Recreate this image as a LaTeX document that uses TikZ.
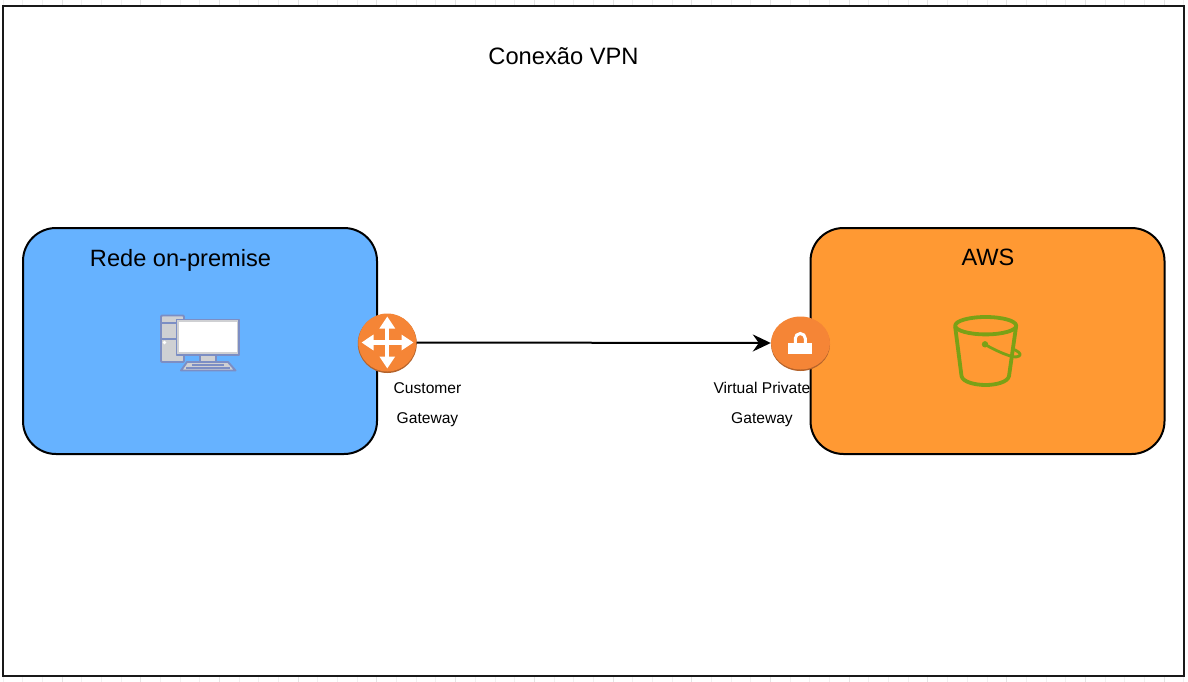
\documentclass[tikz,border=0pt]{standalone}
\usepackage{fontspec}
\setmainfont{Liberation Sans}
\usetikzlibrary{shapes.geometric,arrows.meta}
\definecolor{netblue}{HTML}{66B2FF}
\definecolor{awsorange}{HTML}{FF9933}
\definecolor{gworange}{HTML}{F58536}
\definecolor{gwshadow}{HTML}{B4632B}
\definecolor{iconline}{HTML}{7C8EC4}
\definecolor{icongray}{HTML}{CFD0D3}
\definecolor{bucketgreen}{HTML}{7AA116}
\definecolor{gridline}{HTML}{F0F0F0}
\definecolor{gridmajor}{HTML}{E4E4E4}
\tikzset{
  panel/.style={draw=black,line width=2pt,rounded corners=33pt,minimum width=354pt,minimum height=226pt,inner sep=0pt},
  gateway/.style={fill=gworange,draw=none,inner sep=0pt},
  title/.style={font=\fontsize{23.7}{26}\selectfont,inner sep=0pt},
  heading/.style={font=\fontsize{23.6}{27}\selectfont,inner sep=0pt},
  caption/.style={font=\fontsize{15.6}{30}\selectfont,align=center,inner sep=0pt},
  iconstroke/.style={draw=iconline,line width=1.9pt,line join=round},
  whitearrow/.style={draw=white,line width=4.2pt,-{Triangle[width=15pt,length=12pt]}},
  bucket/.style={draw=bucketgreen,line width=3.8pt,line join=round,line cap=round},
  flow/.style={draw=black,line width=2pt,-{Stealth[length=18pt,width=17pt,inset=6pt]}}
}
\begin{document}
\begin{tikzpicture}[x=1pt,y=-1pt]
\useasboundingbox (0,0) rectangle (1188,682);
% faint page grid visible beyond the frame
\foreach \i in {0,...,60}{
  \pgfmathsetmacro{\gx}{2.9+19.68*\i}
  \pgfmathtruncatemacro{\m}{mod(\i,4)}
  \ifnum\m=3
    \draw[gridmajor,line width=0.8pt] (\gx,0) -- (\gx,682);
  \else
    \draw[gridline,line width=0.8pt] (\gx,0) -- (\gx,682);
  \fi
}
% outer frame
\node[draw=black!90,fill=white,line width=2pt,minimum width=1181pt,minimum height=670pt,inner sep=0pt] (frame) at (593.8,341) {};
\node[title] (vpntitle) at (563.5,56) {Conexão VPN};
% panels
\node[panel,fill=netblue] (onprem) at (200,341) {};
\node[panel,fill=awsorange] (aws) at (987.5,341) {};
\node[heading] (onpremtitle) at (180.5,260.5) {Rede on-premise};
\node[heading] (awstitle) at (988,257) {AWS};
% computer
\draw[iconstroke,fill=icongray,rounded corners=1pt] (161,315.5) rectangle (184,362);
\draw[iconstroke] (161,323) -- (184,323) (161,339) -- (176,339);
\fill[white] (164.5,342.5) circle (1.8pt);
\draw[iconstroke,fill=icongray] (200,355) rectangle (216,362);
\draw[iconstroke,fill=icongray] (187,362) -- (228,362) -- (235.5,370.5) -- (181,370.5) -- cycle;
\draw[iconline,line width=1.2pt] (192,365) -- (224,365) (186,368) -- (230,368);
\draw[iconstroke,fill=icongray] (176.5,319.5) rectangle (239,355);
\fill[white] (178.8,321.8) rectangle (236.7,352);
% connector end shapes
\fill[gwshadow] (387.3,343.5) circle (29.5pt);
\node[gateway,circle,minimum size=58pt] (router) at (387.3,342.5) {};
\fill[gwshadow] (800.5,344.5) ellipse (29.5pt and 26.5pt);
\node[gateway,ellipse,minimum width=59pt,minimum height=53pt] (vpg) at (800.5,343) {};
\draw[flow] (router.east) -- (vpg.west);
% router arrows
\draw[whitearrow] (387.3,342.5) -- (387.3,316.5);
\draw[whitearrow] (387.3,342.5) -- (387.3,368.5);
\draw[whitearrow] (387.3,342.5) -- (361.5,342.5);
\draw[whitearrow] (387.3,342.5) -- (413.5,342.5);
% padlock
\fill[white] (788.3,342.7) rectangle (812.3,353.5);
\draw[white,line width=3pt] (795.3,344) -- (795.3,338.5) arc[start angle=180,end angle=0,radius=5pt] -- (805.3,344);
% bucket
\draw[bucket] (985.7,325.7) ellipse (30.5pt and 8.7pt);
\draw[bucket] (955.2,327) -- (961.5,376) .. controls (962.5,382) and (975,385) .. (985.7,385) .. controls (996,385) and (1008,382) .. (1009,376) -- (1016,327);
\draw[bucket,line width=2.8pt] (985,344.5) .. controls (993,349) and (1003,354) .. (1012,356.5) .. controls (1019,358) and (1022,355) .. (1019,352.5) .. controls (1017,350.5) and (1014,349.5) .. (1012.5,349);
\fill[bucketgreen] (985,344.3) circle (3.2pt);
% captions
\node[caption] (cgw) at (427.5,404.3) {Customer\\Gateway};
\node[caption] (vgw) at (762,404.3) {Virtual Private\\Gateway};
\end{tikzpicture}
\end{document}
